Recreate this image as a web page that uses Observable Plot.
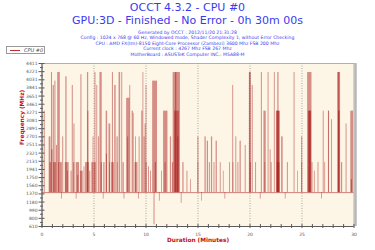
<!DOCTYPE html>
<html>
<head>
<meta charset="utf-8">
<script src="https://cdn.jsdelivr.net/npm/d3@7"></script>
<script src="https://cdn.jsdelivr.net/npm/@observablehq/plot@0.6"></script>
<style>
  body { margin: 0; background: #fff; }
  #wrap { position: relative; width: 375px; height: 250px; font-family: "DejaVu Sans", sans-serif; overflow: hidden; }
  .hd { position: absolute; left: 0; width: 375px; text-align: center; color: #3a3af0; white-space: nowrap; }
  #chart { position: absolute; left: 0; top: 0; }
  #legend { position: absolute; left: 6px; top: 46px; width: 37px; height: 6px; border: 1px solid #9a9a9a; background: #fff; }
  #legend .sw { position: absolute; left: 3px; top: 3px; width: 10px; border-top: 1px solid #c03030; }
  #legend .lb { position: absolute; left: 17px; top: 0px; font-size: 5px; line-height: 6px; font-style: italic; color: #444; }
</style>
</head>
<body>
<div id="wrap">
  <div id="chart"></div>
  <div class="hd" style="top:2px;font-size:11px;line-height:12px;">OCCT 4.3.2 - CPU #0</div>
  <div class="hd" style="top:15px;font-size:11px;line-height:12px;">GPU:3D - Finished - No Error - 0h 30m 00s</div>
  <div id="info"></div>
  <div id="legend"><span class="sw"></span><span class="lb">CPU #0</span></div>
</div>
<script>
// Header lines under the title
const infoLines = [
  "Generated by OCCT : 2012/11/20 21:31:28",
  "Config : 1024 x 768 @ 60 Hz, Windowed mode, Shader Complexity 1, without Error Checking",
  "CPU : AMD FX(tm)-8150 Eight-Core Processor (Zambezi) 3600 Mhz FSB 200 Mhz",
  "Current clock : 4267 Mhz FSB 267 Mhz",
  "MotherBoard : ASUSTeK Computer INC.: M5A88-M"
];

// Axis tick labels
const yTickLabels = ["610","800","990","1180","1370","1560","1750","1941","2131","2321","2511",
  "2701","2891","3081","3271","3461","3651","3841","4031","4221","4411"];
const xTickLabels = ["0","5","10","15","20","25","30"];

// Idle clock of CPU #0 (MHz)
const baseMHz = 1400;

// Clock excursions away from idle: start / end (minutes) and clock reached (MHz)
const spikeStart = [
  0.22,0.70,0.78,0.92,0.95,1.08,1.12,1.25,1.40,1.52,1.60,1.78,1.90,2.00,2.25,2.30,2.45,2.80,2.92,3.05,3.08,3.30,3.30,3.45,3.70,3.75,4.05,4.20,4.38,4.42,4.60,4.80,4.92,
  5.05,5.10,5.28,5.45,5.58,5.70,5.90,5.95,6.18,6.20,6.45,6.50,6.70,6.78,7.00,7.22,7.25,7.42,7.68,7.80,7.90,8.15,8.25,8.45,8.68,8.80,8.95,9.00,9.30,9.35,9.60,9.72,9.82,9.92,10.02,10.02,
  10.25,10.45,10.65,10.78,10.90,11.30,11.50,11.70,11.85,12.35,12.55,12.62,12.75,12.85,13.05,13.40,13.55,13.95,14.30,
  15.00,15.02,15.35,15.68,15.90,16.10,16.30,16.55,16.75,17.15,17.45,17.60,18.05,18.35,18.38,18.65,18.85,19.05,19.55,
  19.95,20.00,20.05,20.22,20.55,21.00,21.10,21.35,21.45,21.75,21.95,22.05,22.35,22.55,22.60,22.62,22.68,23.05,23.40,23.60,24.25,24.60,24.98,25.00,
  25.55,25.62,25.70,25.98,26.20,26.55,26.90,27.05,27.20,27.55,27.58,27.85,28.45,28.50,28.52,28.80,29.25,29.70,29.75
];
const spikeEnd = [
  0.30,0.85,0.92,1.00,1.05,1.18,1.40,1.33,1.48,1.75,1.70,1.95,1.96,2.08,2.60,2.40,2.52,2.88,3.00,3.14,3.16,3.36,3.60,3.52,3.95,3.83,4.12,4.55,4.48,4.50,4.68,5.00,4.98,
  5.20,5.18,5.35,5.52,5.78,5.80,5.96,6.05,6.30,6.28,6.60,6.56,6.95,6.86,7.12,7.32,7.30,7.55,7.75,7.90,7.96,8.45,8.32,8.52,8.78,8.85,9.22,9.06,9.36,9.42,9.70,9.78,9.90,10.00,10.08,10.10,
  10.32,10.52,11.10,10.86,11.00,11.36,11.56,12.10,11.92,12.45,12.65,13.30,13.20,12.95,13.15,13.46,13.65,14.02,14.36,
  15.08,15.06,15.40,15.78,16.00,16.18,16.40,16.62,16.85,17.22,17.50,17.66,18.12,18.42,18.44,18.72,18.92,19.15,19.62,
  20.10,20.08,20.12,20.30,20.62,21.06,21.18,21.55,21.50,21.82,22.02,22.12,22.42,22.90,22.85,22.88,22.78,23.18,23.46,23.68,24.32,24.65,25.06,25.05,
  25.95,25.92,25.85,26.05,26.26,26.62,26.96,27.12,27.26,27.62,27.64,27.92,28.70,28.62,28.66,28.90,29.32,29.95,29.85
];
const spikeMHz = [
  3300,2700,2100,4200,2400,3900,2100,4000,2500,4200,2100,2100,1250,2700,2100,4100,1900,1900,3900,2100,3000,1250,2100,1800,1900,4150,2000,2100,4200,3300,1900,2100,2700,
  2100,4200,3900,2700,4200,2100,1250,2100,3300,2300,3000,2100,2100,4200,3900,2700,2100,4200,4200,2100,1250,3600,2700,3900,3300,3250,2100,2700,1250,2700,3300,4200,2700,3000,3900,2100,
  2000,1900,4000,650,2100,1200,1900,3300,2100,2700,2100,4200,3300,4200,2700,1150,2100,1900,1700,
  2700,2100,1200,2700,2600,2100,2700,2100,2600,2100,1900,1250,2100,3900,2100,2700,2100,2600,2500,
  4200,4200,2100,3900,2100,1250,4200,3300,2100,4200,2400,2100,4200,3300,3300,2100,4200,2700,1250,2100,4200,1900,2700,2100,
  4200,3300,3300,2100,1900,2100,1250,3300,2100,3300,3300,3100,4200,4200,3300,2100,3000,3300,1700
];

const spikes = spikeStart.map((s, i) => ({ start: s, end: spikeEnd[i], mhz: spikeMHz[i] }));

document.getElementById("info").innerHTML = infoLines
  .map((t, i) => `<div class="hd" style="top:${29.6 + i * 5.55}px;font-size:4.6px;line-height:5.5px;">${t}</div>`)
  .join("");

const yTicks = yTickLabels.map(Number);
const yMinor = yTicks.slice(1).map((v, i) => (v + yTicks[i]) / 2);
const xMajor = xTickLabels.map(Number);
const xMinor = d3.range(0, 31);

const red = "#a30f0f";
const axisGrey = "#5a5a5a";

const chart = Plot.plot({
  width: 375,
  height: 250,
  marginLeft: 41.5,
  marginRight: 21.5,
  marginTop: 63,
  marginBottom: 24,
  x: { domain: [0, 30], axis: null },
  y: { domain: [610, 4411], axis: null },
  style: { background: "transparent", fontFamily: "DejaVu Sans, sans-serif", fontSize: "4.5px", color: "#555" },
  marks: [
    Plot.frame({ fill: "#fdf6e6", stroke: "#b0b0b0" }),
    Plot.ruleX([30], { stroke: "#b8b8b8", strokeWidth: 2.5, dx: 1.5 }),
    Plot.gridX(xMajor.slice(1, -1), { stroke: "#a8a8a8", strokeOpacity: 1, strokeDasharray: "1,1.5" }),
    Plot.ruleY([baseMHz], { stroke: red, strokeOpacity: 0.5 }),
    Plot.rect(spikes, {
      x1: "start", x2: "end", y1: () => baseMHz, y2: "mhz",
      fill: red, fillOpacity: 0.45, insetLeft: -0.1, insetRight: -0.1
    }),
    Plot.ruleX([0], { stroke: axisGrey }),
    Plot.ruleY([610], { stroke: axisGrey }),
    Plot.axisY({ ticks: yTicks, tickFormat: d => String(d), tickSize: 3, tickPadding: 1.5, stroke: axisGrey, fill: "#555", label: null }),
    Plot.axisY({ ticks: yTicks, text: null, tickSize: -3, stroke: axisGrey, label: null }),
    Plot.axisY({ ticks: yMinor, text: null, tickSize: 1.5, stroke: axisGrey, label: null }),
    Plot.axisY({ ticks: yMinor, text: null, tickSize: -1.5, stroke: axisGrey, label: null }),
    Plot.axisX({ ticks: xMinor, text: null, tickSize: 2, stroke: axisGrey, label: null }),
    Plot.axisX({ ticks: xMinor, text: null, tickSize: -2, stroke: axisGrey, label: null }),
    Plot.axisX({ ticks: xMajor, tickFormat: (d, i) => xTickLabels[i], tickSize: 0, tickPadding: 6, fill: "#555", label: null }),
    Plot.text(["Frequency (MHz)"], { frameAnchor: "left", rotate: -90, dx: -19.5, fill: "#c01010", fontWeight: "bold", fontSize: 5.8 }),
    Plot.text(["Duration (Minutes)"], { frameAnchor: "bottom", dy: 15, fill: "#c01010", fontWeight: "bold", fontSize: 5.8 })
  ]
});
document.getElementById("chart").appendChild(chart);
</script>
</body>
</html>
